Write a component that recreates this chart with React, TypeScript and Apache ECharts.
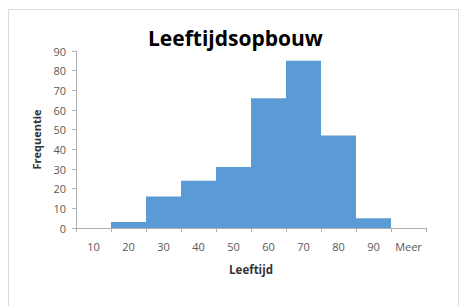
import React, { useEffect, useRef } from "react";
import * as echarts from "echarts";

const categories = ["10", "20", "30", "40", "50", "60", "70", "80", "90", "Meer"];
const frequencies = [0, 3, 16, 24, 31, 66, 85, 47, 5, 0];
const chartTitle = "Leeftijdsopbouw";
const xName = "Leeftijd";
const yName = "Frequentie";

export default function App() {
  const ref = useRef<HTMLDivElement>(null);
  useEffect(() => {
    if (!ref.current) return;
    const chart = echarts.init(ref.current, null, { renderer: "svg" });
    chart.setOption({
      animation: false,
      backgroundColor: "#ffffff",
      title: {
        text: chartTitle,
        left: 148,
        top: 27,
        padding: 0,
        textStyle: { fontFamily: "Open Sans", fontWeight: "bold", fontSize: 21, color: "#000" },
      },
      graphic: [
        {
          type: "rect",
          shape: { x: 8.5, y: 9.5, width: 450, height: 310 },
          style: { fill: "none", stroke: "#d9d9d9", lineWidth: 1 },
          silent: true,
        },
      ],
      grid: { left: 76, right: 40, top: 51, bottom: 78 },
      xAxis: {
        type: "category",
        data: categories,
        name: xName,
        nameLocation: "middle",
        nameGap: 35,
        nameTextStyle: { fontFamily: "Open Sans", fontWeight: "bold", fontSize: 11.5, color: "#333" },
        axisLine: { lineStyle: { color: "#b0b0b0", width: 1 } },
        axisTick: { show: true, length: 4, lineStyle: { color: "#b0b0b0" } },
        axisLabel: { color: "#595959", fontFamily: "Open Sans", fontSize: 11, margin: 13 },
      },
      yAxis: {
        type: "value",
        min: 0,
        max: 90,
        interval: 10,
        name: yName,
        nameLocation: "middle",
        nameGap: 34,
        nameRotate: 90,
        nameTextStyle: { fontFamily: "Open Sans", fontWeight: "bold", fontSize: 11, color: "#333" },
        axisLine: { show: true, lineStyle: { color: "#b0b0b0", width: 1 } },
        axisTick: { show: true, length: 4, lineStyle: { color: "#b0b0b0" } },
        splitLine: { show: false },
        axisLabel: { color: "#595959", fontFamily: "Open Sans", fontSize: 11, margin: 10 },
      },
      series: [
        {
          type: "bar",
          data: frequencies,
          barCategoryGap: "0%",
          itemStyle: { color: "#5b9bd5" },
        },
      ],
    });
    return () => chart.dispose();
  }, []);
  return (
    <div
      ref={ref}
      style={{ position: "absolute", left: 0, top: 0, width: 466, height: 306 }}
    />
  );
}
